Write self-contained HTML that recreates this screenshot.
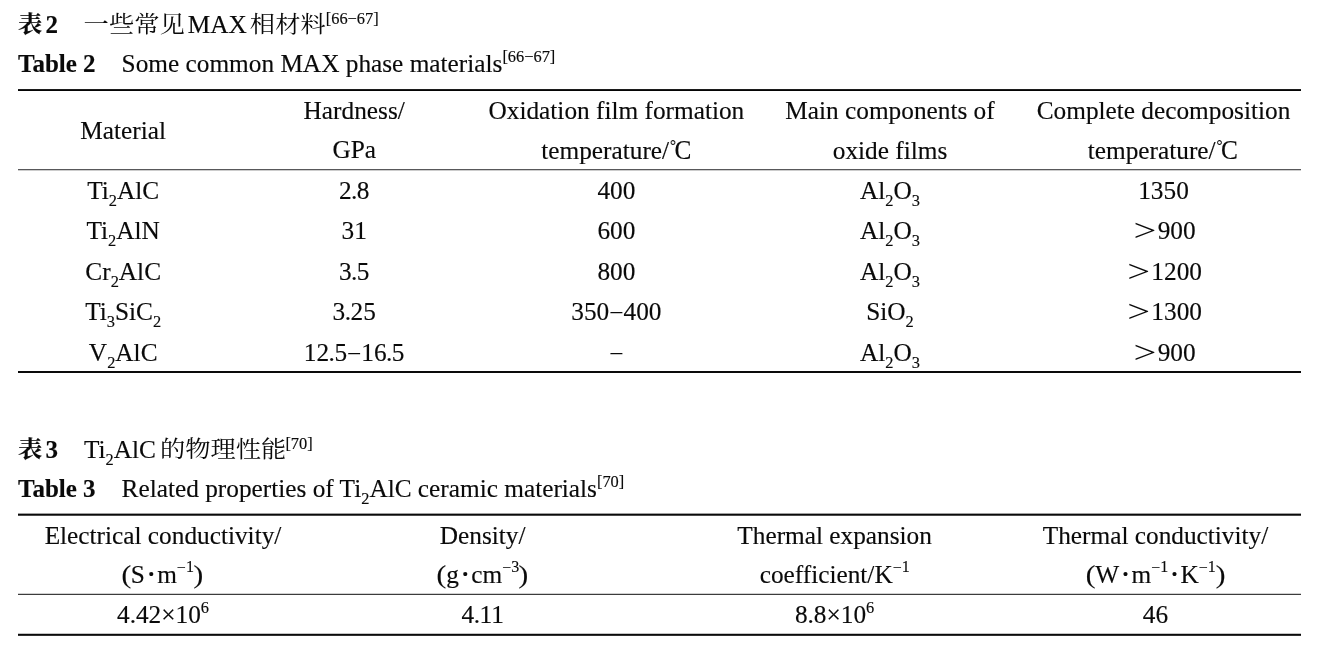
<!DOCTYPE html>
<html lang="zh"><head><meta charset="utf-8"><title>Tables</title>
<style>
html,body{margin:0;padding:0;background:#fff;}
body{width:1317px;height:645px;position:relative;overflow:hidden;font-family:"Liberation Serif","Noto Serif CJK SC",serif;color:#0a0a0a;-webkit-text-stroke:0.15px #0a0a0a;font-size:25.3px;line-height:30px;}
.t{position:absolute;white-space:nowrap;height:30px;}
.c{transform:translateX(-50%);}
.r{position:absolute;}
.cj,.cjb{font-family:"Noto Serif CJK SC","Liberation Serif",serif;display:inline-block;line-height:20px;height:20px;vertical-align:baseline;font-size:25.3px;transform:translateY(-0.8px) scaleY(0.92);transform-origin:50% 20.9px;}
.cjb{font-size:24.4px;transform:translateY(-0.6px) scaleY(0.95);margin-right:3px;}
sub,sup{font-size:16.4px;line-height:0;}
sub{vertical-align:-7.2px;}
sup{vertical-align:10px;}
sup.s2{vertical-align:9px;}
.gap{display:inline-block;width:25.7px;}
.gap2{display:inline-block;width:26px;}
.gap3{display:inline-block;width:26px;}
.sp{display:inline-block;width:3px;}
.dc{display:inline-block;line-height:20px;height:20px;transform:scaleY(1.06);transform-origin:50% 18.5px;}
.deg{font-size:15px;line-height:0;vertical-align:8px;margin-left:1px;margin-right:-1.5px;}
.p{margin:0 -0.55px;}
.cj,.gt{-webkit-text-stroke:0;}
.dot{font-size:33px;line-height:0;vertical-align:-2px;margin:0 0.5px 0 0.9px;}
.pa{display:inline-block;line-height:0;transform:translateY(-0.4px) scale(1.15,1.01);margin:0 0.5px;}
sup.u{vertical-align:11.3px;margin-right:-0.2px;font-size:16px;}
.m{position:relative;top:1.3px;}
.mn{position:relative;top:1px;}
.gt{display:inline-block;line-height:0;transform:scale(1.6,1.26) translateY(-0.3px);margin:0 5.5px 0 4.5px;}
b{font-weight:bold;font-size:25px;}
</style></head><body>
<div class="t cap" style="left:18px;top:8.96px"><b><span class="cjb">表</span>2</b><span class="gap"> </span><span class="cj">一些常见</span><span class="sp"></span>MAX<span class="sp"></span><span class="cj">相材料</span><sup class="s2">[66−67]</sup></div>
<div class="t cap" style="left:18px;top:48.46px"><b>Table 2</b><span class="gap2"> </span>Some common MAX phase materials<sup>[66−67]</sup></div>
<div class="r" style="left:18px;top:89px;width:1283px;height:1px;background:#1c1c1c"></div>
<div class="r" style="left:18px;top:90px;width:1283px;height:1px;background:#050505"></div>
<div class="t c " style="left:123.2px;top:115.26px">Material</div>
<div class="t c " style="left:354.2px;top:94.86px">Hardness/</div>
<div class="t c " style="left:354.2px;top:134.46px">GPa</div>
<div class="t c " style="left:616.4px;top:94.86px">Oxidation film formation</div>
<div class="t c " style="left:616.4px;top:134.96px">temperature/<span class="dc"><span class="deg">°</span>C</span></div>
<div class="t c " style="left:890px;top:94.86px">Main components of</div>
<div class="t c " style="left:890px;top:134.96px">oxide films</div>
<div class="t c " style="left:1163.5px;top:94.86px">Complete decomposition</div>
<div class="t c " style="left:1162.9px;top:134.96px">temperature/<span class="dc"><span class="deg">°</span>C</span></div>
<div class="r" style="left:18px;top:169px;width:1283px;height:1px;background:#58585a"></div>
<div class="r" style="left:18px;top:170px;width:1283px;height:1px;background:#cccccc"></div>
<div class="t c " style="left:123.2px;top:175.26px">Ti<sub>2</sub>AlC</div>
<div class="t c " style="left:354.2px;top:175.26px">2<span class="p">.</span>8</div>
<div class="t c " style="left:616.4px;top:175.26px">400</div>
<div class="t c " style="left:890px;top:175.26px">Al<sub>2</sub>O<sub>3</sub></div>
<div class="t c " style="left:1163.5px;top:175.26px">1350</div>
<div class="t c " style="left:123.2px;top:215.46px">Ti<sub>2</sub>AlN</div>
<div class="t c " style="left:354.2px;top:215.46px">31</div>
<div class="t c " style="left:616.4px;top:215.46px">600</div>
<div class="t c " style="left:890px;top:215.46px">Al<sub>2</sub>O<sub>3</sub></div>
<div class="t c " style="left:1164.5px;top:215.46px"><span class="gt">&gt;</span>900</div>
<div class="t c " style="left:123.2px;top:256.36px">Cr<sub>2</sub>AlC</div>
<div class="t c " style="left:354.2px;top:256.36px">3<span class="p">.</span>5</div>
<div class="t c " style="left:616.4px;top:256.36px">800</div>
<div class="t c " style="left:890px;top:256.36px">Al<sub>2</sub>O<sub>3</sub></div>
<div class="t c " style="left:1164.5px;top:256.36px"><span class="gt">&gt;</span>1200</div>
<div class="t c " style="left:123.2px;top:296.46px">Ti<sub>3</sub>SiC<sub>2</sub></div>
<div class="t c " style="left:354.2px;top:296.46px">3<span class="p">.</span>25</div>
<div class="t c " style="left:616.4px;top:296.46px">350<span class="mn">−</span>400</div>
<div class="t c " style="left:890px;top:296.46px">SiO<sub>2</sub></div>
<div class="t c " style="left:1164.5px;top:296.46px"><span class="gt">&gt;</span>1300</div>
<div class="t c " style="left:123.2px;top:337.26px">V<sub>2</sub>AlC</div>
<div class="t c " style="left:354.2px;top:337.26px">12<span class="p">.</span>5<span class="mn">−</span>16<span class="p">.</span>5</div>
<div class="t c " style="left:616.4px;top:337.26px"><span class="mn">−</span></div>
<div class="t c " style="left:890px;top:337.26px">Al<sub>2</sub>O<sub>3</sub></div>
<div class="t c " style="left:1164.5px;top:337.26px"><span class="gt">&gt;</span>900</div>
<div class="r" style="left:18px;top:371px;width:1283px;height:1px;background:#0a0a0a"></div>
<div class="r" style="left:18px;top:372px;width:1283px;height:1px;background:#0a0a0a"></div>
<div class="t cap" style="left:18px;top:434.46px"><b><span class="cjb">表</span>3</b><span class="gap3"> </span>Ti<sub>2</sub>AlC<span class="sp" style="width:4px"></span><span class="cj">的物理性能</span><sup class="s2" style="margin-left:-1px">[70]</sup></div>
<div class="t cap" style="left:18px;top:473.46px"><b>Table 3</b><span class="gap2"> </span>Related properties of Ti<sub>2</sub>AlC ceramic materials<sup>[70]</sup></div>
<div class="r" style="left:18px;top:513px;width:1283px;height:1px;background:#a0a0a0"></div>
<div class="r" style="left:18px;top:514px;width:1283px;height:1px;background:#0a0a0a"></div>
<div class="r" style="left:18px;top:515px;width:1283px;height:1px;background:#4a4a4a"></div>
<div class="t c " style="left:163px;top:520.46px">Electrical conductivity/</div>
<div class="t c " style="left:162.2px;top:559.46px"><span class="pa">(</span>S<span class="dot">·</span>m<sup class="u"><span class="m">−</span>1</sup><span class="pa">)</span></div>
<div class="t c " style="left:482.7px;top:520.46px">Density/</div>
<div class="t c " style="left:482.7px;top:559.46px"><span class="pa">(</span>g<span class="dot">·</span>cm<sup class="u"><span class="m">−</span>3</sup><span class="pa">)</span></div>
<div class="t c " style="left:834.6px;top:520.46px">Thermal expansion</div>
<div class="t c " style="left:834.6px;top:559.46px">coefficient/K<sup class="u"><span class="m">−</span>1</sup></div>
<div class="t c " style="left:1155.5px;top:520.46px">Thermal conductivity/</div>
<div class="t c " style="left:1155.5px;top:559.46px"><span class="pa">(</span>W<span class="dot">·</span>m<sup class="u"><span class="m">−</span>1</sup><span class="dot">·</span>K<sup class="u"><span class="m">−</span>1</sup><span class="pa">)</span></div>
<div class="r" style="left:18px;top:593px;width:1283px;height:1px;background:#d0d0d0"></div>
<div class="r" style="left:18px;top:594px;width:1283px;height:1px;background:#3c3c3c"></div>
<div class="t c " style="left:163px;top:599.16px">4.42×10<sup>6</sup></div>
<div class="t c " style="left:482.7px;top:599.16px">4<span class="p">.</span>11</div>
<div class="t c " style="left:834.6px;top:599.16px">8.8×10<sup>6</sup></div>
<div class="t c " style="left:1155.5px;top:599.16px">46</div>
<div class="r" style="left:18px;top:633px;width:1283px;height:1px;background:#c4c4c4"></div>
<div class="r" style="left:18px;top:634px;width:1283px;height:1px;background:#0a0a0a"></div>
<div class="r" style="left:18px;top:635px;width:1283px;height:1px;background:#303030"></div>
</body></html>
